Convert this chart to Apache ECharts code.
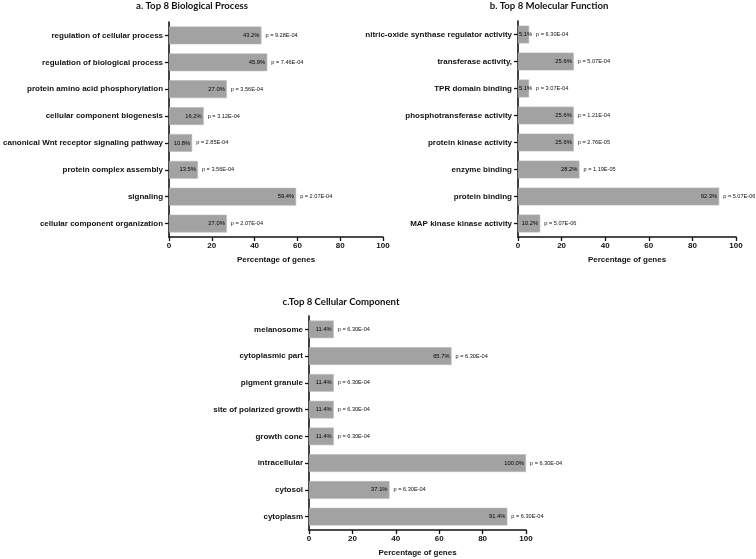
<!DOCTYPE html>
<html>
<head>
<meta charset="utf-8">
<script src="https://cdn.jsdelivr.net/npm/echarts@6/dist/echarts.min.js"></script>
<style>
html,body{margin:0;padding:0;background:#fff;}
#chart{width:756px;height:559px;}
</style>
</head>
<body>
<div id="chart"></div>
<script>
// ---- data ----
var bpCategories = ["regulation of cellular process","regulation of biological process","protein amino acid phosphorylation","cellular component biogenesis","canonical Wnt receptor signaling pathway","protein complex assembly","signaling","cellular component organization"];
var bpValues = [43.2, 45.9, 27.0, 16.2, 10.8, 13.5, 59.4, 27.0];
var bpPValues = ["9.28E-04","7.46E-04","3.56E-04","3.12E-04","2.85E-04","3.56E-04","2.07E-04","2.07E-04"];

var mfCategories = ["nitric-oxide synthase regulator activity","transferase activity,","TPR domain binding","phosphotransferase activity","protein kinase activity","enzyme binding","protein binding","MAP kinase kinase activity"];
var mfValues = [5.1, 25.6, 5.1, 25.6, 25.6, 28.2, 92.3, 10.2];
var mfPValues = ["6.30E-04","5.07E-04","3.07E-04","1.21E-04","2.76E-05","1.19E-05","5.07E-06","5.07E-06"];

var ccCategories = ["melanosome","cytoplasmic part","pigment granule","site of polarized growth","growth cone","intracellular","cytosol","cytoplasm"];
var ccValues = [11.4, 65.7, 11.4, 11.4, 11.4, 100.0, 37.1, 91.4];
var ccPValues = ["6.30E-04","6.30E-04","6.30E-04","6.30E-04","6.30E-04","6.30E-04","6.30E-04","6.30E-04"];

var xTicks = [0, 20, 40, 60, 80, 100];
var titles = ["a. Top 8 Biological Process", "b. Top 8 Molecular Function", "c.Top 8 Cellular Component"];
var axisName = "Percentage of genes";

// ---- build ----
var FONT = "Liberation Sans, Arial, sans-serif";
var TFONT = "Lato, Open Sans, sans-serif";
var grids = [
  {left: 167, width: 216, top: 22, height: 215},
  {left: 518, width: 218, top: 21, height: 216},
  {left: 309, width: 217, top: 316, height: 214}
];
var cats = [bpCategories, mfCategories, ccCategories];
var vals = [bpValues, mfValues, ccValues];
var pvals = [bpPValues, mfPValues, ccPValues];

var xAxes = [], yAxes = [], series = [];
for (var i = 0; i < 3; i++) {
  xAxes.push({
    gridIndex: i, type: 'value', min: xTicks[0], max: xTicks[xTicks.length-1], interval: 20,
    name: axisName, nameLocation: 'middle', nameGap: 19,
    nameTextStyle: {fontFamily: FONT, fontWeight: 'bold', fontSize: 8, color: '#111'},
    axisLine: {show: true, lineStyle: {color: '#111', width: 1.6}},
    axisTick: {show: true, length: 4, lineStyle: {color: '#111', width: 1.3}},
    axisLabel: {fontFamily: FONT, fontWeight: 'bold', fontSize: 8, color: '#111', margin: 5},
    splitLine: {show: false}
  });
  yAxes.push({
    gridIndex: i, type: 'category', inverse: true, data: cats[i],
    axisLine: {show: true, lineStyle: {color: '#111', width: 1.6}},
    axisTick: {show: true, alignWithLabel: true, length: 4, lineStyle: {color: '#111', width: 1.3}},
    axisLabel: {fontFamily: FONT, fontWeight: 'bold', fontSize: 8, color: '#111', margin: 6}
  });
  (function(idx){
    var mainData = vals[idx].map(function(v){
      return v < 8 ? {value: v, label: {position: 'insideLeft', distance: 1}} : v;
    });
    var pData = vals[idx].map(function(v){
      return v < 8 ? {value: v, label: {distance: 7}} : v;
    });
    series.push({
      type: 'bar', xAxisIndex: idx, yAxisIndex: idx, data: mainData,
      barCategoryGap: '34%', barGap: '-100%', z: 3,
      itemStyle: {color: '#a2a2a2', borderColor: '#b8b8b8', borderWidth: 0.6},
      label: {show: true, position: 'insideRight', distance: 2, overflow: 'none', width: 40,
        fontFamily: FONT, fontSize: 5.8, color: '#000',
        formatter: function(p){ return vals[idx][p.dataIndex].toFixed(1) + '%'; }},
      silent: true, animation: false
    });
    series.push({
      type: 'bar', xAxisIndex: idx, yAxisIndex: idx, data: pData,
      barCategoryGap: '34%', barGap: '-100%', z: 2,
      itemStyle: {color: 'rgba(0,0,0,0)'},
      label: {show: true, position: 'right', distance: 4,
        fontFamily: FONT, fontSize: 5.6, color: '#111',
        formatter: function(p){ return 'p = ' + pvals[idx][p.dataIndex]; }},
      silent: true, animation: false
    });
  })(i);
}

var chart = echarts.init(document.getElementById('chart'), null, {renderer: 'canvas'});
chart.setOption({
  backgroundColor: '#fff',
  animation: false,
  title: [
    {text: titles[0], left: 192, top: 1, padding: 0, textAlign: 'center', textStyle: {fontFamily: TFONT, fontWeight: 'bold', fontSize: 9.6, color: '#111'}},
    {text: titles[1], left: 549, top: 1, padding: 0, textAlign: 'center', textStyle: {fontFamily: TFONT, fontWeight: 'bold', fontSize: 9.6, color: '#111'}},
    {text: titles[2], left: 341, top: 297, padding: 0, textAlign: 'center', textStyle: {fontFamily: TFONT, fontWeight: 'bold', fontSize: 9.6, color: '#111'}}
  ],
  grid: grids,
  xAxis: xAxes,
  yAxis: yAxes,
  series: series
});
</script>
</body>
</html>
